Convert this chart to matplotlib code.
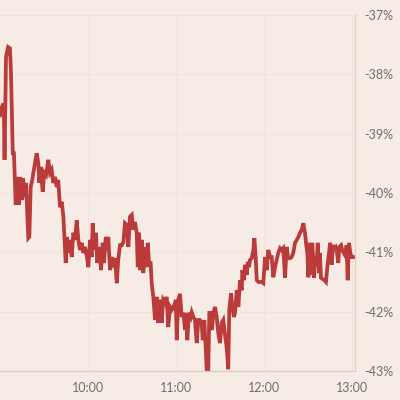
import matplotlib
matplotlib.use("Agg")
import matplotlib.pyplot as plt
import pandas as pd

# minutes after 9:00
minutes = [0, 1.0, 1.8, 2.6, 3.1, 4.1, 5.5, 6.8, 7.5, 8.7, 9.5, 10.7, 11.6, 12.7, 13.6, 14.8,
           15.7, 17.0, 17.7, 19.3, 20.0, 20.9, 22.0, 23.4, 25.0, 26.1, 26.8, 27.7, 29.1, 30.2,
           31.4, 32.9, 34.1, 35.2, 36.3, 37.5, 38.7, 39.7, 40.9, 42.1, 43.2, 44.8, 45.5, 46.6,
           47.7, 48.9, 50.0, 51.1, 52.3, 53.4, 54.5, 55.7, 56.8, 57.9, 59.1, 60.2, 61.4, 62.5,
           63.2, 64.1, 65.4, 66.3, 67.7, 68.9, 70.0, 70.9, 72.1, 73.1, 73.8, 75.0, 76.1, 77.2,
           78.4, 79.6, 80.6, 81.8, 83.0, 84.1, 85.2, 86.4, 87.5, 88.6, 89.8, 90.9, 92.0, 93.2,
           93.9, 94.8, 95.6, 96.6, 97.7, 98.8, 100.0, 100.7, 101.6, 102.7, 103.4, 104.5, 105.7,
           106.8, 107.9, 109.1, 110.2, 111.3, 112.5, 113.6, 114.7, 115.9, 117.0, 118.1, 118.8,
           119.8, 120.5, 121.5, 122.7, 123.9, 125.0, 126.1, 126.8, 127.7, 128.8, 130.0, 130.7,
           131.8, 132.9, 134.1, 135.2, 136.3, 137.5, 138.2, 139.3, 140.9, 142.0, 142.7, 143.6,
           144.5, 145.4, 146.6, 147.7, 148.8, 150.0, 151.1, 152.2, 153.4, 154.5, 155.6, 156.3,
           157.5, 158.4, 159.5, 160.2, 161.4, 162.5, 163.6, 164.8, 165.2, 166.3, 167.0, 168.2,
           168.9, 169.7, 170.4, 171.6, 172.7, 173.4, 174.3, 175.0, 176.1, 178.4, 179.5, 180.7,
           181.8, 182.9, 184.1, 185.2, 186.3, 187.5, 188.6, 189.7, 190.9, 192.0, 193.1, 194.3,
           195.4, 196.5, 197.7, 198.8, 199.9, 201.1, 202.3, 203.4, 204.5, 205.7, 206.8, 207.9,
           208.6, 209.5, 210.2, 210.9, 211.8, 212.9, 214.1, 214.7, 215.9, 216.6, 217.5, 218.1,
           218.8, 221.1, 222.2, 223.4, 224.3, 225.0, 225.6, 226.1, 227.0, 227.9, 228.8, 229.7,
           230.6, 231.3, 232.5, 233.3, 234.3, 235.2, 236.3, 237.0, 237.9, 238.8, 239.7, 240.8,
           242.0]

change_pct = [-38.69, -38.57, -38.52, -38.53, -39.44, -37.71, -37.54, -37.56, -37.98, -39.33,
              -39.33, -40.20, -39.73, -40.20, -39.73, -40.12, -39.75, -40.07, -39.83, -40.76,
              -40.74, -39.90, -39.78, -39.56, -39.33, -39.49, -39.83, -39.56, -39.98, -39.66,
              -39.70, -39.44, -39.66, -39.61, -39.83, -39.73, -39.90, -39.78, -40.24, -40.15,
              -40.40, -41.18, -40.74, -41.01, -40.79, -41.08, -40.67, -40.79, -40.46, -40.79,
              -40.96, -40.84, -41.01, -40.91, -41.05, -41.25, -40.79, -41.08, -40.51, -40.96,
              -40.67, -41.18, -40.91, -41.30, -40.84, -41.18, -40.74, -40.96, -40.74, -41.30,
              -41.08, -41.18, -41.10, -41.52, -41.13, -40.88, -40.88, -40.83, -40.51, -40.54,
              -40.91, -40.40, -40.37, -40.62, -40.49, -40.67, -41.25, -40.67, -41.30, -40.79,
              -41.35, -40.91, -41.25, -40.84, -41.18, -41.18, -41.52, -41.75, -42.14, -41.75,
              -42.19, -41.80, -42.19, -41.80, -41.85, -41.75, -42.26, -41.92, -41.97, -41.92,
              -41.97, -41.80, -42.48, -41.80, -41.70, -42.09, -42.02, -42.31, -42.02, -42.48,
              -42.02, -42.09, -42.01, -42.09, -42.14, -42.53, -42.14, -42.14, -42.19, -42.48,
              -42.14, -42.97, -42.97, -42.02, -42.02, -42.31, -42.02, -41.92, -42.09, -42.36,
              -42.53, -42.19, -42.14, -42.39, -42.60, -42.97, -41.97, -41.69, -41.92, -42.09,
              -42.02, -41.64, -41.92, -41.47, -41.64, -41.30, -41.47, -41.21, -41.38, -41.16,
              -41.25, -41.13, -41.10, -40.96, -40.76, -41.08, -41.47, -41.50, -41.50, -41.52,
              -41.08, -41.30, -40.96, -41.08, -41.08, -41.42, -41.25, -41.13, -41.01, -40.93,
              -40.96, -40.93, -41.43, -40.91, -41.10, -41.10, -41.08, -41.01, -40.84, -40.79,
              -40.74, -40.67, -40.62, -40.51, -40.67, -40.84, -41.01, -41.42, -40.84, -41.38,
              -40.84, -41.43, -41.13, -41.18, -40.84, -41.35, -41.01, -41.43, -41.47, -41.50,
              -41.18, -41.01, -40.84, -40.91, -41.21, -40.88, -40.93, -40.91, -41.00, -41.18,
              -40.91, -40.88, -40.96, -41.01, -41.05, -40.88, -41.47, -40.84, -41.01, -41.08,
              -41.08, -41.08]

y_ticks = [-43, -42, -41, -40, -39, -38, -37]
x_tick_labels = ["10:00", "11:00", "12:00", "13:00"]

bg = "#f7ebe5"
line_color = "#bb3b3b"
grid_color = "#f2e4db"
spine_color = "#dccdc3"
text_color = "#6e6e6e"

start = pd.Timestamp("2024-01-02 09:00")
times = [start + pd.Timedelta(minutes=m) for m in minutes]
tick_times = [pd.Timestamp("2024-01-02 " + t) for t in x_tick_labels]

plt.rcParams['font.family'] = ['Lato', 'DejaVu Sans']

fig = plt.figure(figsize=(4, 4), dpi=100, facecolor=bg)
ax = fig.add_axes([0.0, 0.0725, 0.8875, 0.89])
ax.set_facecolor(bg)

ax.plot(times, change_pct, color=line_color, linewidth=2.7, solid_joinstyle="miter")

ax.set_ylim(-43, -37)
ax.set_xlim(times[0], times[-1])
ax.set_yticks(y_ticks)
ax.set_yticklabels([f"{v}%" for v in y_ticks])
ax.set_xticks(tick_times)
ax.set_xticklabels(x_tick_labels)

ax.yaxis.tick_right()
ax.tick_params(axis="both", length=0, labelsize=9, colors=text_color)
ax.tick_params(axis="y", pad=7)
ax.tick_params(axis="x", pad=8)

ax.grid(True, color=grid_color, linewidth=0.9)
ax.set_axisbelow(True)
for s in ["top", "left"]:
    ax.spines[s].set_visible(False)
for s in ["bottom", "right"]:
    ax.spines[s].set_color(spine_color)
    ax.spines[s].set_linewidth(0.9)

fig.savefig("out.png", dpi=100, facecolor=bg)
